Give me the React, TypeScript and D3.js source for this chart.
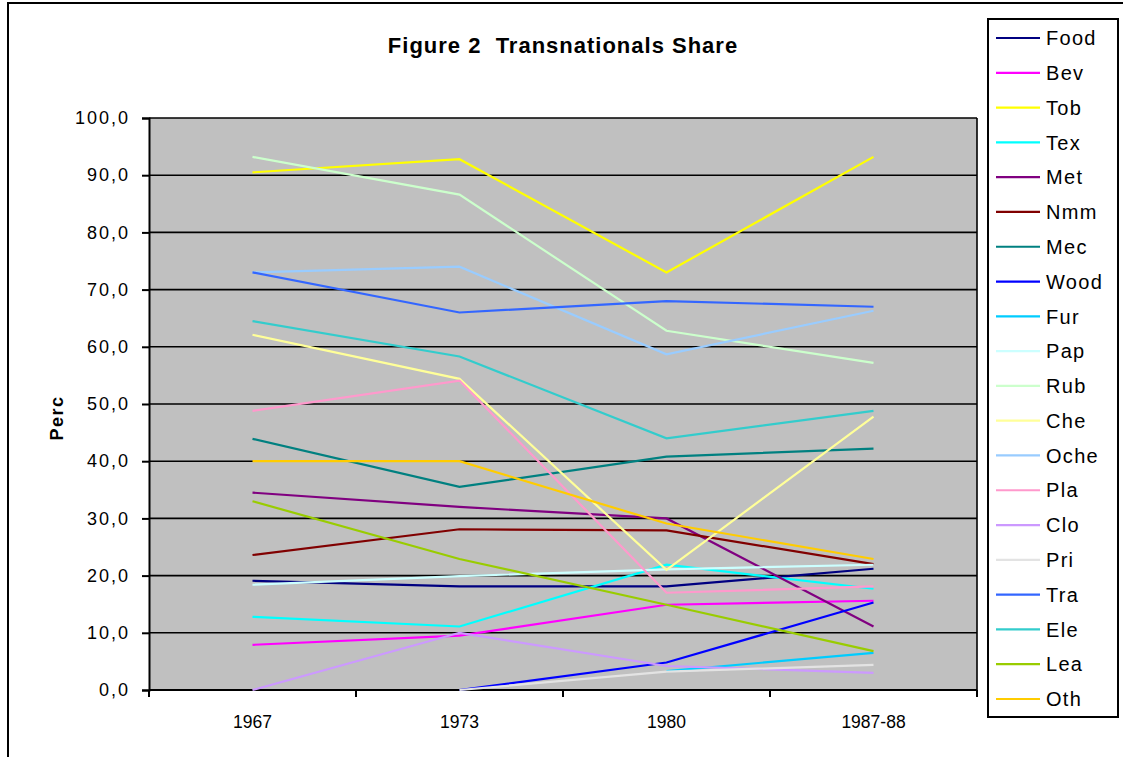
import React, { useEffect, useRef } from "react";
import * as d3 from "d3";

const years = ["1967", "1973", "1980", "1987-88"];
const yTicks = [0, 10, 20, 30, 40, 50, 60, 70, 80, 90, 100];

const seriesNames = [
  "Food", "Bev", "Tob", "Tex", "Met", "Nmm", "Mec", "Wood", "Fur", "Pap",
  "Rub", "Che", "Oche", "Pla", "Clo", "Pri", "Tra", "Ele", "Lea", "Oth",
];

const food = [19.1, 18.1, 18.1, 21.2];
const bev = [7.9, 9.5, 14.9, 15.6];
const tob = [90.5, 92.8, 73.0, 93.2];
const tex = [12.8, 11.1, 21.9, 17.7];
const met = [34.5, 32.0, 30.0, 11.1];
const nmm = [23.6, 28.1, 27.9, 22.0];
const mec = [43.9, 35.5, 40.8, 42.2];
const wood = [null, 0, 4.8, 15.3];
const fur = [null, null, 3.3, 6.5];
const pap = [18.4, 19.9, 21.1, 21.9];
const rub = [93.2, 86.6, 62.8, 57.2];
const che = [62.1, 54.4, 21.0, 47.8];
const oche = [73.0, 74.0, 58.7, 66.3];
const pla = [48.8, 54.1, 17.0, 18.1];
const clo = [0, 10.0, 4.2, 3.0];
const pri = [null, 0, 3.2, 4.4];
const tra = [73.0, 66.0, 68.0, 67.0];
const ele = [64.5, 58.3, 44.0, 48.8];
const lea = [33.0, 22.9, 14.9, 6.8];
const oth = [40.0, 40.0, 29.1, 22.9];

const seriesValues: (number | null)[][] = [
  food, bev, tob, tex, met, nmm, mec, wood, fur, pap,
  rub, che, oche, pla, clo, pri, tra, ele, lea, oth,
];

const seriesColors = [
  "#000080", "#FF00FF", "#FFFF00", "#00FFFF", "#800080", "#800000", "#008080",
  "#0000FF", "#00CCFF", "#CCFFFF", "#CCFFCC", "#FFFF99", "#99CCFF", "#FF99CC",
  "#CC99FF", "#E3E3E3", "#3366FF", "#33CCCC", "#99CC00", "#FFCC00",
];

const W = 1123;
const H = 757;
const font = "Arial, 'Liberation Sans', sans-serif";

const LineChart: React.FC = () => {
  const ref = useRef<SVGSVGElement | null>(null);

  useEffect(() => {
    const svg = d3.select(ref.current);
    svg.selectAll("*").remove();
    svg.attr("width", W).attr("height", H);

    svg.append("rect").attr("width", W).attr("height", H).attr("fill", "#fff");

    // outer chart frame (cropped at right/bottom)
    svg
      .append("rect")
      .attr("x", 8)
      .attr("y", 3)
      .attr("width", W + 20)
      .attr("height", H + 20)
      .attr("fill", "none")
      .attr("stroke", "#000")
      .attr("stroke-width", 2);

    const left = 149;
    const right = 977;
    const top = 118;
    const bottom = 690;

    const x = d3.scaleBand().domain(years).range([left, right]);
    const y = d3.scaleLinear().domain([0, 100]).range([bottom, top]);

    svg
      .append("rect")
      .attr("x", left)
      .attr("y", top)
      .attr("width", right - left)
      .attr("height", bottom - top)
      .attr("fill", "#C0C0C0");

    // gridlines
    svg
      .append("g")
      .selectAll("line")
      .data(yTicks.filter((t) => t > 0))
      .enter()
      .append("line")
      .attr("x1", left)
      .attr("x2", right)
      .attr("y1", (d) => y(d))
      .attr("y2", (d) => y(d))
      .attr("stroke", "#000")
      .attr("stroke-width", 1.6);

    // right border
    svg
      .append("line")
      .attr("x1", right)
      .attr("x2", right)
      .attr("y1", top)
      .attr("y2", bottom)
      .attr("stroke", "#000")
      .attr("stroke-width", 1.6);

    // y axis
    const yAxis = svg
      .append("g")
      .attr("transform", `translate(${left},0)`)
      .call(
        d3
          .axisLeft(y)
          .tickValues(yTicks)
          .tickSize(7)
          .tickPadding(12)
          .tickFormat((d) => d3.format(".1f")(d as number).replace(".", ","))
      );
    yAxis.select(".domain").attr("stroke-width", 2);
    yAxis.selectAll(".tick line").attr("stroke-width", 2);
    yAxis
      .selectAll("text")
      .attr("font-family", font)
      .attr("font-size", 18)
      .attr("letter-spacing", 2)
      .attr("fill", "#000");

    // x axis
    const xAxis = svg
      .append("g")
      .attr("transform", `translate(0,${bottom})`)
      .call(d3.axisBottom(x).tickSize(0).tickPadding(26));
    xAxis.select(".domain").attr("stroke-width", 2).attr("d", `M${left},0H${right}`);
    xAxis
      .selectAll("text")
      .attr("font-family", font)
      .attr("font-size", 17.5)
      .attr("fill", "#000");
    // ticks between categories
    xAxis
      .append("g")
      .selectAll("line")
      .data(years.map((yr) => x(yr)! + x.bandwidth()).concat([left]))
      .enter()
      .append("line")
      .attr("x1", (d) => d)
      .attr("x2", (d) => d)
      .attr("y1", 0)
      .attr("y2", 7)
      .attr("stroke", "#000")
      .attr("stroke-width", 2);

    // series lines
    const line = d3
      .line<number | null>()
      .defined((d) => d !== null)
      .x((d, i) => x(years[i])! + x.bandwidth() / 2)
      .y((d) => y(d as number));

    svg
      .append("g")
      .selectAll("path")
      .data(seriesValues)
      .enter()
      .append("path")
      .attr("d", (d) => line(d))
      .attr("fill", "none")
      .attr("stroke", (d, i) => seriesColors[i])
      .attr("stroke-width", 2.2);

    // title
    svg
      .append("text")
      .attr("x", 563)
      .attr("y", 53)
      .attr("text-anchor", "middle")
      .attr("font-family", font)
      .attr("font-weight", "bold")
      .attr("font-size", 22)
      .attr("letter-spacing", 1)
      .style("white-space", "pre")
      .text("Figure 2  Transnationals Share");

    // y label
    svg
      .append("text")
      .attr("transform", `translate(63,418) rotate(-90)`)
      .attr("text-anchor", "middle")
      .attr("font-family", font)
      .attr("font-weight", "bold")
      .attr("font-size", 18)
      .attr("letter-spacing", 1.5)
      .text("Perc");

    // legend
    const lg = svg.append("g");
    lg.append("rect")
      .attr("x", 988)
      .attr("y", 19)
      .attr("width", 130)
      .attr("height", 698)
      .attr("fill", "#fff")
      .attr("stroke", "#000")
      .attr("stroke-width", 2);

    const ly = d3.scaleLinear().domain([0, seriesNames.length - 1]).range([38, 699]);
    const items = lg
      .selectAll(".item")
      .data(seriesNames)
      .enter()
      .append("g")
      .attr("class", "item")
      .attr("transform", (d, i) => `translate(0,${ly(i)})`);
    items
      .append("line")
      .attr("x1", 996)
      .attr("x2", 1040)
      .attr("stroke", (d, i) => seriesColors[i])
      .attr("stroke-width", 2.2);
    items
      .append("text")
      .attr("x", 1046)
      .attr("dy", "0.36em")
      .attr("font-family", font)
      .attr("font-size", 20)
      .attr("letter-spacing", 1.3)
      .text((d) => d);
  }, []);

  return <svg ref={ref} style={{ position: "absolute", left: 0, top: 0 }}></svg>;
};

export default function App() {
  return <LineChart />;
}
